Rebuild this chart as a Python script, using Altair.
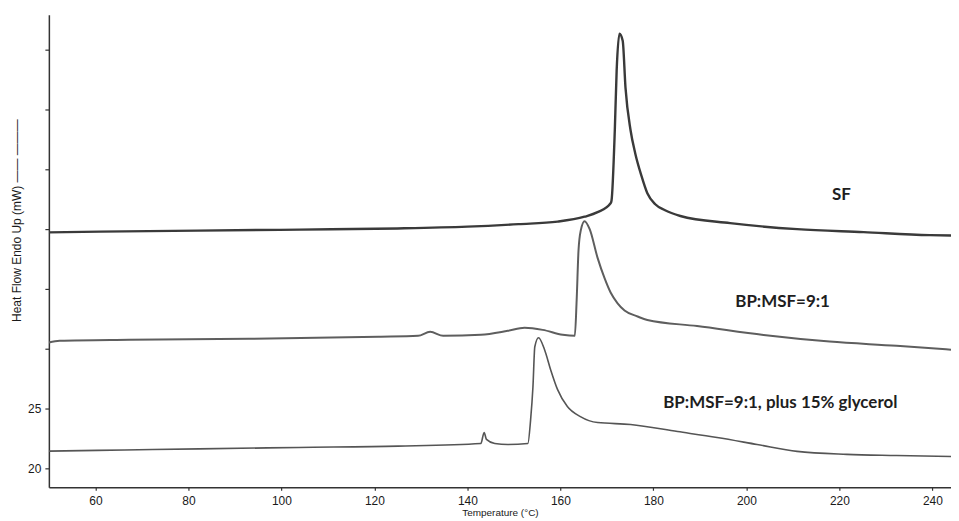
import altair as alt
import pandas as pd

# Temperature (°C) and heat flow (mW)
sf_t = [50, 61, 82, 104, 125, 140, 151, 159.4, 165.2, 168.0, 170.8, 171.0, 171.7, 172.1, 172.7,
        173.4, 174.0, 175.1, 176.1, 177.4, 178.7, 180.4, 182.4, 185.8, 196.5, 210.9, 225.2, 239.4, 244]
sf_q = [39.73, 39.79, 39.88, 39.96, 40.06, 40.21, 40.42, 40.63, 41.04, 41.42, 42.17, 42.4, 48.25, 53.25, 56.33,
        55.75, 51.83, 48.25, 46.33, 44.5, 43.0, 42.08, 41.6, 41.1, 40.5, 40.0, 39.75, 39.5, 39.47]

bp_t = [50, 52.3, 67.3, 93.0, 120.9, 129.4, 132.0, 134.8, 142.9, 148.7, 152.3, 156.2, 160.5, 163.1,
        163.5, 163.9, 164.4, 165.2, 166.3, 168.0, 169.5, 170.8, 172.3, 173.8, 176.6, 178.7, 189.4,
        203.7, 217.9, 232.3, 244]
bp_q = [30.53, 30.67, 30.75, 30.83, 31.0, 31.08, 31.42, 31.08, 31.17, 31.5, 31.75, 31.58, 31.17, 31.08,
        34.08, 38.25, 39.92, 40.67, 40.0, 37.6, 35.9, 34.7, 33.8, 33.2, 32.7, 32.4, 31.9,
        31.15, 30.6, 30.25, 29.92]

gl_t = [50, 66.2, 82.3, 103.7, 125.1, 142.9, 143.6, 144.1, 145.9, 148.7, 153.0, 153.6, 154.1, 154.5,
        155.3, 156.6, 157.9, 159.4, 161.5, 164.3, 168.0, 175.1, 185.2, 193.7, 202.3, 210.9, 221.6, 232.3, 244]
gl_q = [21.44, 21.54, 21.63, 21.75, 21.86, 22.08, 23.0, 22.42, 22.08, 22.0, 22.08, 24.08, 26.83, 30.17,
        30.92, 29.92, 28.25, 26.58, 25.17, 24.33, 23.83, 23.67, 23.08, 22.58, 22.0, 21.42, 21.17, 21.08, 21.0]

series_names = ["SF", "BP:MSF=9:1", "BP:MSF=9:1, plus 15% glycerol"]
series_colors = ["#3a3a3a", "#5e5e5e", "#555555"]
series_widths = [2.4, 1.6, 1.6]

label_text = ["SF", "BP:MSF=9:1", "BP:MSF=9:1, plus 15% glycerol"]
label_t = [218.4, 197.6, 182.1]
label_q = [42.83, 33.92, 25.5]

x_ticks = [60, 80, 100, 120, 140, 160, 180, 200, 220, 240]
y_ticks = [20, 25, 30, 35, 40, 45, 50, 55]

rows = []
for name, ts, qs in zip(series_names, [sf_t, bp_t, gl_t], [sf_q, bp_q, gl_q]):
    for i, (t, q) in enumerate(zip(ts, qs)):
        rows.append({"series": name, "T": t, "Q": q, "order": i})
df = pd.DataFrame(rows)
labels = pd.DataFrame({"text": label_text, "T": label_t, "Q": label_q})

xscale = alt.Scale(domain=[50, 244], nice=False, zero=False)
yscale = alt.Scale(domain=[18.42, 57.92], nice=False, zero=False)

AX_FONT = "Liberation Sans"

lines = alt.Chart(df).mark_line(interpolate="monotone", clip=True).encode(
    x=alt.X("T:Q", scale=xscale,
            axis=alt.Axis(title="Temperature (°C)", values=x_ticks, grid=False,
                          tickSize=3, labelPadding=5, labelFontSize=12, labelFont=AX_FONT,
                          labelColor="#1a1a1a", titleFont=AX_FONT, titleFontSize=10,
                          titleFontWeight="normal", titleColor="#1a1a1a", titlePadding=1,
                          domainColor="#333", domainWidth=1.5, tickColor="#333", tickWidth=1.2)),
    y=alt.Y("Q:Q", scale=yscale,
            axis=alt.Axis(title="Heat Flow Endo Up (mW) —— ———", values=y_ticks, grid=False,
                          labelExpr="datum.value <= 25 ? datum.label : ''",
                          tickSize=4, labelPadding=4, labelFontSize=12, labelFont=AX_FONT,
                          labelColor="#1a1a1a", titleFont=AX_FONT, titleFontSize=12,
                          titleFontWeight="normal", titleColor="#1a1a1a",
                          titleX=-32, titleY=206, titleBaseline="middle", titleAngle=270,
                          domainColor="#333", domainWidth=1.5, tickColor="#333", tickWidth=1.2)),
    color=alt.Color("series:N", scale=alt.Scale(domain=series_names, range=series_colors), legend=None),
    strokeWidth=alt.StrokeWidth("series:N", scale=alt.Scale(domain=series_names, range=series_widths), legend=None),
    detail="series:N",
    order="order:Q",
)

text = alt.Chart(labels).mark_text(align="left", baseline="middle", font="Lato",
                                   fontWeight="bold", fontSize=17, color="#1e1e1e").encode(
    x=alt.X("T:Q", scale=xscale),
    y=alt.Y("Q:Q", scale=yscale),
    text="text:N",
)

chart = (lines + text).properties(
    width=905, height=474,
    autosize=alt.AutoSizeParams(type="none"),
    padding={"left": 41, "top": 6, "right": 0, "bottom": 30},
).configure(background="white").configure_view(stroke=None)

chart.save("out.html", embed_options={"renderer": "svg", "actions": False})
